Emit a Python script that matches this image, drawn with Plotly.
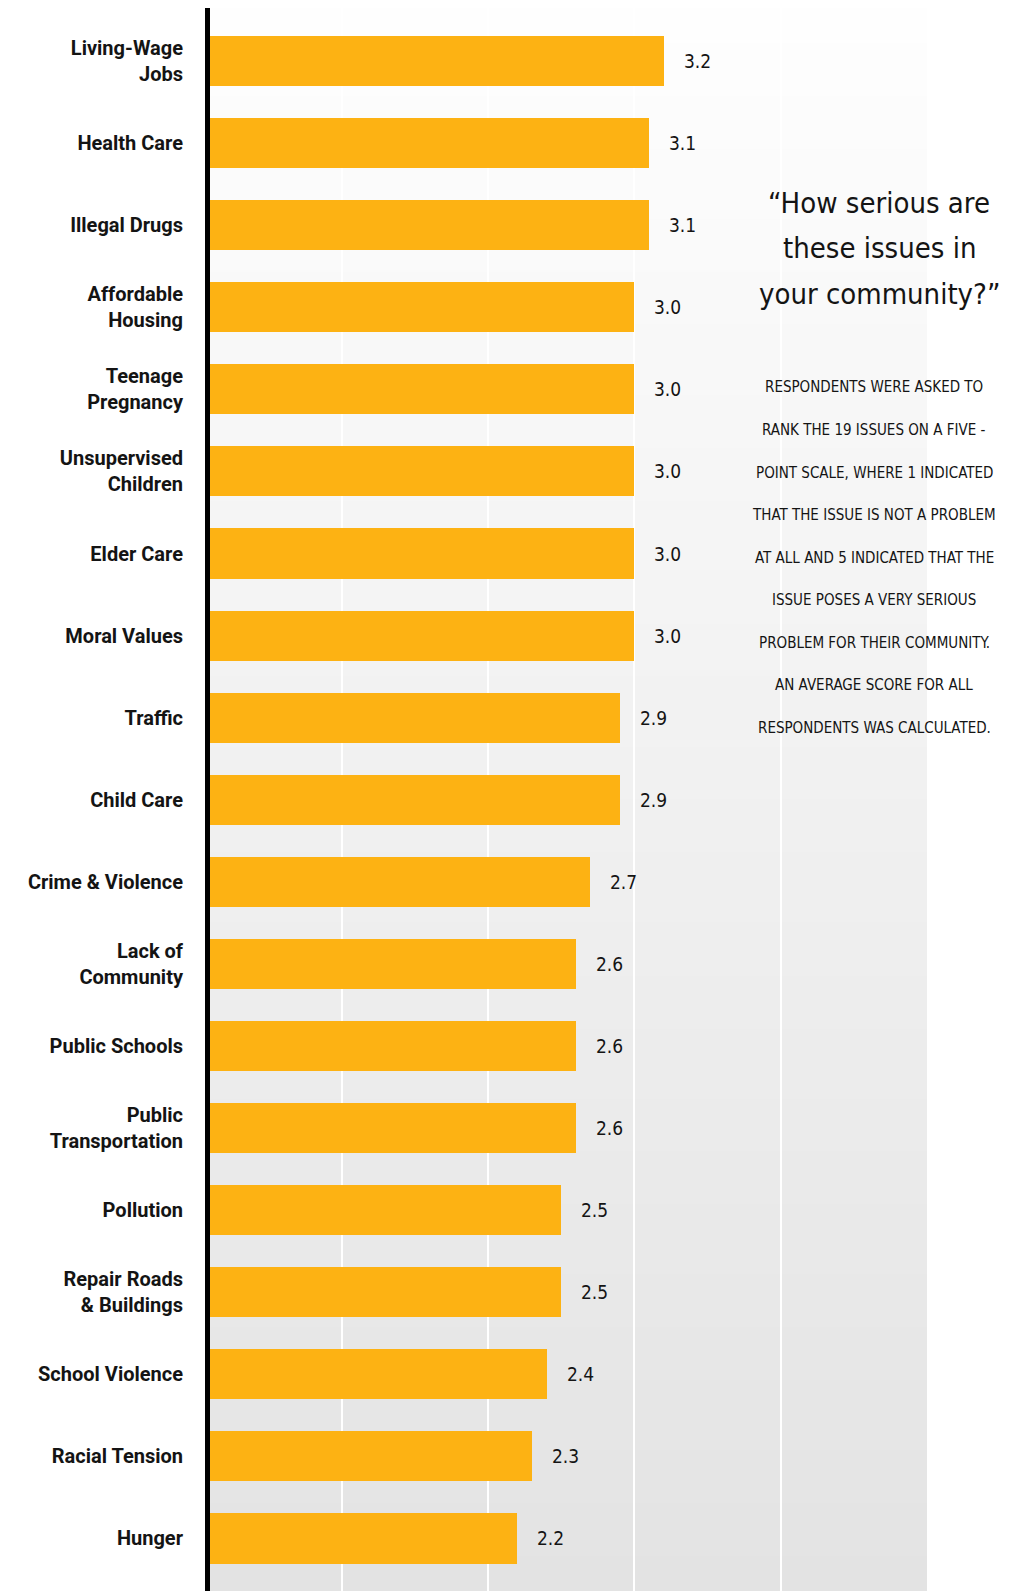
import plotly.graph_objects as go

# Survey results: average seriousness score (1-5 scale) per community issue
issues = [
    "Living-Wage<br>Jobs", "Health Care", "Illegal Drugs", "Affordable<br>Housing",
    "Teenage<br>Pregnancy", "Unsupervised<br>Children", "Elder Care", "Moral Values",
    "Traffic", "Child Care", "Crime & Violence", "Lack of<br>Community",
    "Public Schools", "Public<br>Transportation", "Pollution",
    "Repair Roads<br>& Buildings", "School Violence", "Racial Tension", "Hunger",
]
scores = [3.2, 3.1, 3.1, 3.0, 3.0, 3.0, 3.0, 3.0, 2.9, 2.9, 2.7, 2.6, 2.6, 2.6,
          2.5, 2.5, 2.4, 2.3, 2.2]
score_labels = [f"{v:.1f}" for v in scores]

title_lines = ["\u201cHow serious are", "these issues in", "your community?\u201d"]
note_lines = [
    "RESPONDENTS WERE ASKED TO",
    "RANK THE 19 ISSUES ON A FIVE -",
    "POINT SCALE, WHERE 1 INDICATED",
    "THAT THE ISSUE IS NOT A PROBLEM",
    "AT ALL AND 5 INDICATED THAT THE",
    "ISSUE POSES A VERY SERIOUS",
    "PROBLEM FOR THEIR COMMUNITY.",
    "AN AVERAGE SCORE FOR ALL",
    "RESPONDENTS WAS CALCULATED.",
]

W, H = 1026, 1591
ML, MR, MT, MB = 210, 99, 8, 0
PW, PH = W - ML - MR, H - MT - MB

BAR = "#FDB213"
INK = "#141414"
NARROW = "DejaVu Sans Condensed, Liberation Sans Narrow, sans-serif"


def px_to_paper(x, y):
    return (x - ML) / PW, 1 - (y - MT) / PH


fig = go.Figure()
fig.add_trace(go.Bar(
    x=scores, y=issues, orientation="h", base=0,
    marker=dict(color=BAR, line=dict(width=0)),
    width=0.61, hoverinfo="skip",
))

# value labels just past each bar end
for cat, v, lab in zip(issues, scores, score_labels):
    fig.add_annotation(
        x=v, y=cat, text=lab, showarrow=False, xanchor="left", yanchor="middle",
        xshift=18, font=dict(family=NARROW, size=19, color=INK),
    )

# vertical light-grey gradient behind the bars
shapes = []
n_bands = 90
top_c, bot_c = 254, 227
for i in range(n_bands):
    t = (i + 0.5) / n_bands
    c = round(top_c + (bot_c - top_c) * t)
    shapes.append(dict(
        type="rect", xref="paper", yref="paper", x0=0, x1=1,
        y0=1 - (i + 1) / n_bands - 0.0005, y1=1 - i / n_bands,
        fillcolor=f"rgb({c},{c},{c})", line=dict(width=0), layer="below",
    ))

# heading and explanatory note at the right
title_y = [203, 248, 294]
for line, py in zip(title_lines, title_y):
    xp, yp = px_to_paper(879, py)
    fig.add_annotation(
        xref="paper", yref="paper", x=xp, y=yp, text=line, showarrow=False,
        xanchor="center", yanchor="middle",
        font=dict(family=NARROW, size=29, color=INK),
    )
note_y = [387, 430, 473, 515, 558, 600, 643, 685, 728]
for line, py in zip(note_lines, note_y):
    xp, yp = px_to_paper(874, py)
    fig.add_annotation(
        xref="paper", yref="paper", x=xp, y=yp, text=line, showarrow=False,
        xanchor="center", yanchor="middle",
        font=dict(family=NARROW, size=15, color=INK),
    )

fig.update_layout(
    width=W, height=H,
    margin=dict(l=ML, r=MR, t=MT, b=MB, pad=0),
    paper_bgcolor="white", plot_bgcolor="rgba(0,0,0,0)",
    showlegend=False, shapes=shapes, bargap=0,
    xaxis=dict(
        range=[0.1, 5], tick0=0, dtick=1, showticklabels=False,
        showgrid=True, gridcolor="white", gridwidth=2,
        zeroline=False, showline=False, fixedrange=True,
    ),
    yaxis=dict(
        type="category", categoryorder="array", categoryarray=issues,
        range=[18.64, -0.646], showgrid=False, zeroline=False,
        showline=True, linecolor="black", linewidth=5,
        ticks="", ticklabelstandoff=18,
        tickfont=dict(family="Roboto, Arial, sans-serif", size=20,
                      color=INK, weight="bold"),
        fixedrange=True,
    ),
)

fig.write_html("out.html")
